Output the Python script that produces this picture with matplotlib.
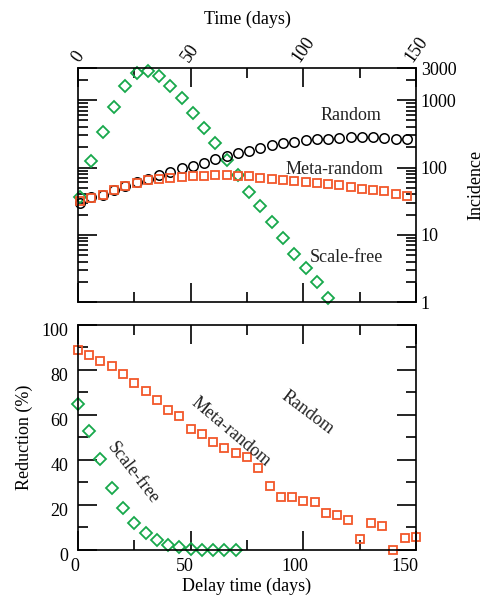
import numpy as np
import matplotlib
matplotlib.use("Agg")
import matplotlib.pyplot as plt
from matplotlib.ticker import LogLocator, NullFormatter, MultipleLocator, FixedLocator
from matplotlib.transforms import ScaledTranslation

plt.rcParams['font.family'] = ['Liberation Serif', 'DejaVu Serif']
plt.rcParams['font.size'] = 13

GREEN = '#17a84b'
RED = '#f2572a'

# --- top panel: incidence vs time (days)
t_sf = [1, 6, 11, 16, 21, 26, 31, 36, 41, 46, 51, 56, 61, 66, 71, 76, 81, 86, 91, 96, 101, 106, 111]
inc_sf = [37, 127, 340, 805, 1630, 2500, 2740, 2300, 1630, 1060, 655, 386, 228, 128, 77,
          44, 26.5, 15.6, 8.9, 5.2, 3.2, 1.97, 1.16]

t_rm = list(range(1, 147, 5))
inc_random = [29.6, 36, 39.5, 45.7, 52.7, 60, 68, 77, 85, 97, 107, 117, 133, 148, 162,
              175, 195, 213, 228, 242, 253, 262, 268, 274, 283, 283, 283, 277, 268, 262]
inc_meta = [31.4, 35.3, 39.5, 45.7, 52.7, 59, 65, 68, 70, 73, 74, 74, 77, 77, 76,
            74, 70, 68.5, 66, 64, 61, 59, 57.7, 54.4, 50.8, 48.6, 45.9, 44.4, 40.9, 37.3]

# --- bottom panel: reduction vs delay time
delay_meta = list(range(0, 151, 5))
red_meta = [88.9, 86.4, 84, 81.5, 78.2, 74.1, 70.4, 66.4, 62.2, 59.7, 53.9, 51.4, 47.9, 45.5,
            43.2, 41.2, 36.4, 28.4, 23.4, 23.4, 21.9, 21.2, 16.6, 15.4, 13.2, 5, 11.9, 10.7,
            0, 5.3, 5.6]
delay_sf = list(range(0, 71, 5))
red_sf = [64.8, 52.9, 40.3, 27.7, 18.8, 11.9, 7.4, 4.4, 2.4, 1.2, 0.4, 0.2, 0.1, 0, 0]

fig = plt.figure(figsize=(4.9, 6.02), dpi=100)
ax1 = fig.add_axes([0.159, 0.498, 0.690, 0.389])
ax2 = fig.add_axes([0.159, 0.0864, 0.690, 0.374])

for ax in (ax1, ax2):
    for s in ax.spines.values():
        s.set_linewidth(1.2)

# top
ax1.plot(t_sf, inc_sf, 'D', ms=6, mfc='none', mec=GREEN, mew=1.3, clip_on=False)
ax1.plot(t_rm, inc_random, 'o', ms=6.8, mfc='none', mec='black', mew=1.1, clip_on=False)
ax1.plot(t_rm, inc_meta, 's', ms=6, mfc='none', mec=RED, mew=1.3, clip_on=False)
ax1.set_yscale('log')
ax1.set_xlim(0, 150)
ax1.set_ylim(1, 3000)
ax1.yaxis.set_major_locator(FixedLocator([1, 10, 100, 1000, 3000]))
ax1.set_yticklabels(['1', '10', '100', '1000', '3000'])
ax1.yaxis.set_minor_locator(LogLocator(base=10, subs=np.arange(2, 10)))
ax1.yaxis.set_minor_formatter(NullFormatter())
ax1.xaxis.set_major_locator(MultipleLocator(50))
ax1.xaxis.set_minor_locator(MultipleLocator(25))
ax1.tick_params(which='both', direction='in', top=True, right=True, bottom=True, left=True,
                labeltop=True, labelbottom=False, labelleft=False, labelright=True, width=1.2)
ax1.tick_params(which='major', length=14)
ax1.tick_params(which='minor', length=7)
ax1.tick_params(axis='x', which='major', pad=2)
for lab in ax1.get_xticklabels():
    lab.set_rotation(55)
    lab.set_ha('center')
    lab.set_va('bottom')
ax1.xaxis.set_label_position('top')
ax1.set_xlabel('Time (days)', labelpad=7)
ax1.yaxis.set_label_position('right')
ax1.set_ylabel('Incidence', labelpad=8)
ax1.text(121, 600, 'Random', ha='center', va='center', color='#222222')
ax1.text(114, 95, 'Meta-random', ha='center', va='center', color='#222222')
ax1.text(119, 4.6, 'Scale-free', ha='center', va='center', color='#222222')

# bottom
ax2.plot(delay_meta, red_meta, 's', ms=6, mfc='none', mec=RED, mew=1.3, clip_on=False)
ax2.plot(delay_sf, red_sf, 'D', ms=6, mfc='none', mec=GREEN, mew=1.3, clip_on=False)
ax2.set_xlim(0, 150)
ax2.set_ylim(0, 100)
ax2.xaxis.set_major_locator(FixedLocator([0, 50, 100, 150]))
ax2.xaxis.set_minor_locator(MultipleLocator(25))
ax2.yaxis.set_major_locator(MultipleLocator(20))
ax2.yaxis.set_minor_locator(MultipleLocator(10))
ax2.tick_params(which='both', direction='in', top=True, right=True, width=1.2)
ax2.tick_params(which='major', length=14)
ax2.tick_params(which='minor', length=7)
ax2.tick_params(axis='x', which='major', pad=6)
ax2.tick_params(axis='y', which='major', pad=7)
# the original's tick labels sit a little off their ticks
x_shift = [-3, -6, -8, -11]
for lab, dx in zip(ax2.get_xticklabels(), x_shift):
    lab.set_transform(lab.get_transform() + ScaledTranslation(dx / 100, 0, fig.dpi_scale_trans))
for lab in ax2.get_yticklabels():
    lab.set_transform(lab.get_transform() + ScaledTranslation(0, -5 / 100, fig.dpi_scale_trans))
ax2.set_xlabel('Delay time (days)', labelpad=2)
ax2.set_ylabel('Reduction (%)', labelpad=6)
ax2.text(68, 52.5, 'Meta-random', rotation=-40, ha='center', va='center', color='#222222')
ax2.text(102, 61, 'Random', rotation=-37, ha='center', va='center', color='#222222')
ax2.text(24.3, 34, 'Scale-free', rotation=-52, ha='center', va='center', color='#222222')

fig.savefig('out.png', dpi=100)
